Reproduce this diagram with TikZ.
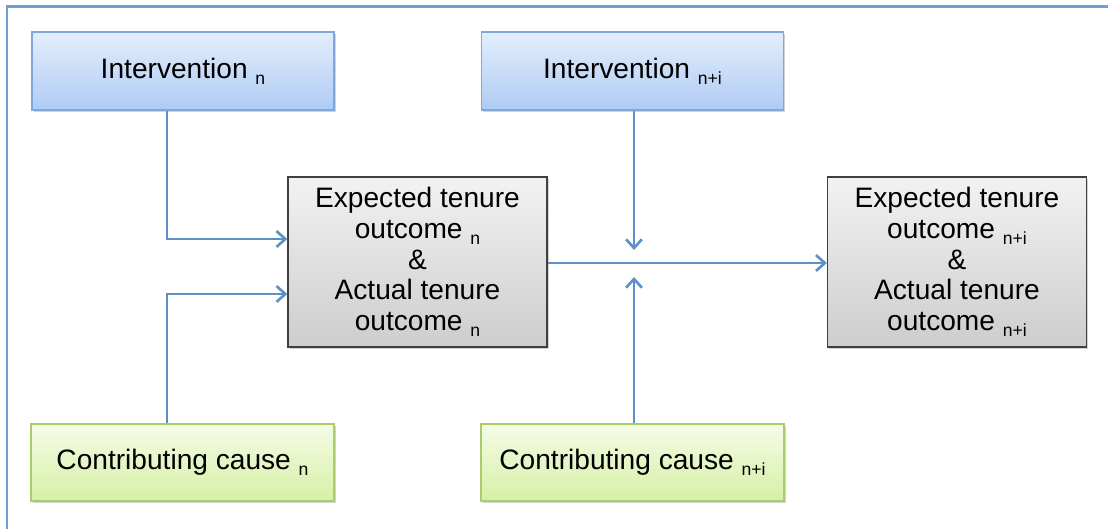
\documentclass[tikz,border=0pt]{standalone}
\usepackage{fontspec}
\setmainfont{Liberation Sans}
\usetikzlibrary{arrows.meta,shadows}
\definecolor{framecol}{HTML}{6F9FD8}
\definecolor{arrowcol}{HTML}{5D8FC8}
\definecolor{bluetop}{HTML}{E3EEFD}
\definecolor{bluebot}{HTML}{AFCBF3}
\definecolor{blueline}{HTML}{7FA8DA}
\definecolor{greentop}{HTML}{F5FCE6}
\definecolor{greenbot}{HTML}{D6EFA6}
\definecolor{greenline}{HTML}{A9CD6C}
\definecolor{graytop}{HTML}{F2F2F2}
\definecolor{graybot}{HTML}{CDCDCD}
\newcommand{\subtxt}[1]{\raisebox{-3.5pt}{\fontsize{10}{10}\selectfont #1}}
\begin{document}
\begin{tikzpicture}
            \tikzstyle{arrow}=[line width=1.6pt,arrowcol,-{Straight Barb[length=5pt,width=9pt,line width=1.5pt]}]
            \tikzstyle{shade}=[drop shadow={shadow xshift=1pt,shadow yshift=-1.2pt,opacity=0.35}]
            \tikzstyle{interv}=[draw=blueline,line width=0.8pt,top color=bluetop,bottom color=bluebot,
                minimum width=6.04cm,minimum height=1.56cm,font=\fontsize{16}{17}\selectfont,shade]
            \tikzstyle{cause}=[draw=greenline,line width=0.8pt,top color=greentop,bottom color=greenbot,
                minimum width=6.06cm,minimum height=1.54cm,font=\fontsize{16}{17}\selectfont,shade]
            \tikzstyle{outcome}=[draw=black!75,line width=0.8pt,top color=graytop,bottom color=graybot,
                minimum width=5.18cm,minimum height=3.4cm,align=center,inner sep=1pt,
                font=\fontsize{16}{17.5}\selectfont,shade]
            \useasboundingbox (0,0) rectangle (22.16,10.58);
            % frame
            \draw[framecol,line width=1.2pt] (0.14,0) -- (0.14,10.45) -- (22.16,10.45);
            % interventions
            \node[interv] (intn) at (3.66,9.16) {Intervention \subtxt{n}};
            \node[interv] (intni) at (12.65,9.16) {Intervention \subtxt{n+i}};
            % contributing causes
            \node[cause] (causen) at (3.65,1.33) {Contributing cause \subtxt{n}};
            \node[cause] (causeni) at (12.65,1.33) {Contributing cause \subtxt{n+i}};
            % outcomes
            \node[outcome] (outn) at (8.35,5.34) {Expected tenure\\outcome \subtxt{n}\\\&\\Actual tenure\\outcome \subtxt{n}};
            \node[outcome] (outni) at (19.14,5.34) {Expected tenure\\outcome \subtxt{n+i}\\\&\\Actual tenure\\outcome \subtxt{n+i}};
            % anchor coordinates
            \coordinate (bendA) at (3.34,5.80);
            \coordinate (bendB) at (3.34,4.70);
            \coordinate (tipA) at (12.68,5.58);
            \coordinate (tipB) at (12.68,5.04);
            % connectors
            \draw[arrow] (intn.south -| bendA) -- (bendA) -- (bendA -| outn.west);
            \draw[arrow] (causen.north -| bendB) -- (bendB) -- (bendB -| outn.west);
            \draw[arrow] (outn.east |- 0,5.32) -- (outni.west |- 0,5.32);
            \draw[arrow] (intni.south -| tipA) -- (tipA);
            \draw[arrow] (causeni.north -| tipB) -- (tipB);
\end{tikzpicture}
\end{document}
